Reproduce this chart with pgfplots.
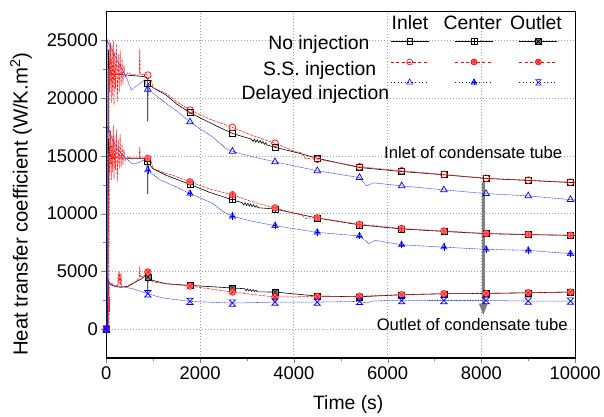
\documentclass[border=0pt]{standalone}
\usepackage{fontspec}
\setmainfont{Liberation Sans}
\usepackage{pgfplots}
\pgfplotsset{compat=1.18}
\usetikzlibrary{arrows.meta}

\pgfdeclareplotmark{boxplus}{%
 \pgfpathrectangle{\pgfqpoint{-\pgfplotmarksize}{-\pgfplotmarksize}}{\pgfqpoint{2\pgfplotmarksize}{2\pgfplotmarksize}}%
 \pgfusepathqfillstroke
 \pgfpathmoveto{\pgfqpoint{-\pgfplotmarksize}{0pt}}\pgfpathlineto{\pgfqpoint{\pgfplotmarksize}{0pt}}%
 \pgfpathmoveto{\pgfqpoint{0pt}{-\pgfplotmarksize}}\pgfpathlineto{\pgfqpoint{0pt}{\pgfplotmarksize}}%
 \pgfusepathqstroke}
\pgfdeclareplotmark{boxtimes}{%
 \pgfpathrectangle{\pgfqpoint{-\pgfplotmarksize}{-\pgfplotmarksize}}{\pgfqpoint{2\pgfplotmarksize}{2\pgfplotmarksize}}%
 \pgfusepathqfillstroke
 \pgfpathmoveto{\pgfqpoint{-\pgfplotmarksize}{-\pgfplotmarksize}}\pgfpathlineto{\pgfqpoint{\pgfplotmarksize}{\pgfplotmarksize}}%
 \pgfpathmoveto{\pgfqpoint{-\pgfplotmarksize}{\pgfplotmarksize}}\pgfpathlineto{\pgfqpoint{\pgfplotmarksize}{-\pgfplotmarksize}}%
 \pgfusepathqstroke}
\pgfdeclareplotmark{triangleplus}{%
 \pgfpathmoveto{\pgfqpoint{0pt}{\pgfplotmarksize}}%
 \pgfpathlineto{\pgfqpoint{-.866\pgfplotmarksize}{-.5\pgfplotmarksize}}%
 \pgfpathlineto{\pgfqpoint{.866\pgfplotmarksize}{-.5\pgfplotmarksize}}%
 \pgfpathclose\pgfusepathqfillstroke
 \pgfpathmoveto{\pgfqpoint{0pt}{-.9\pgfplotmarksize}}\pgfpathlineto{\pgfqpoint{0pt}{\pgfplotmarksize}}%
 \pgfpathmoveto{\pgfqpoint{-.6\pgfplotmarksize}{0pt}}\pgfpathlineto{\pgfqpoint{.6\pgfplotmarksize}{0pt}}%
 \pgfusepathqstroke}
\pgfdeclareplotmark{hourglass}{%
 \pgfpathmoveto{\pgfqpoint{-\pgfplotmarksize}{\pgfplotmarksize}}%
 \pgfpathlineto{\pgfqpoint{\pgfplotmarksize}{\pgfplotmarksize}}%
 \pgfpathlineto{\pgfqpoint{-\pgfplotmarksize}{-\pgfplotmarksize}}%
 \pgfpathlineto{\pgfqpoint{\pgfplotmarksize}{-\pgfplotmarksize}}%
 \pgfpathclose\pgfusepathqstroke}

\pgfplotsset{
 niL/.style={black, line width=0.6pt},
 ssL/.style={red!90, line width=0.55pt, dash pattern=on 3bp off 1bp},
 diL/.style={blue!80, line width=0.55pt, dash pattern=on 1bp off 0.6bp},
 niM/.style={only marks, black, mark options={solid, line width=0.7pt, fill=white}},
 ssM/.style={only marks, red, mark options={solid, line width=0.7pt, fill=white}},
 diM/.style={only marks, blue, mark options={solid, line width=0.7pt, fill=white}},
}

\begin{document}
\begin{tikzpicture}
\begin{axis}[
 scale only axis, width=470.6bp, height=347.6bp,
 xmin=0, xmax=10000, ymin=-2500, ymax=27500,
 xtick={0,2000,...,10000}, ytick={0,5000,...,25000},
 minor x tick num=1, minor y tick num=1,
 tick pos=left, tick align=outside,
 major tick length=5bp, minor tick length=3bp,
 axis line style={line width=1.1pt},
 xmajorgrids=true, ymajorgrids=true,
 major grid style={dash pattern=on 1bp off 2bp, gray!75, line width=0.8pt},
 scaled ticks=false,
 /pgf/number format/.cd, fixed, set thousands separator={}, assume math mode=true, /pgfplots/.cd,
 ticklabel style={font=\fontsize{18.5}{20}\selectfont},
 every axis x label/.style={at={(axis description cs:0.516,-0.134)}, anchor=center, font=\fontsize{19.5}{22}\selectfont},
 every axis y label/.style={at={(axis description cs:-0.182,0.444)}, rotate=90, anchor=center, font=\fontsize{20.5}{23}\selectfont},
 xlabel={Time (s)},
 ylabel={Heat transfer coefficient (W/K.m\textsuperscript{2})},
 legend columns=3,
 legend style={draw=none, fill=none, inner sep=0pt, outer sep=0pt,
   at={(0.606,0.9432)}, anchor=north west, column sep=12.5bp, row sep=0pt,
   nodes={inner sep=0pt, minimum height=20.5bp}},
 legend image code/.code={\draw[mark repeat=2,mark phase=2,#1] plot coordinates {(0bp,0bp) (19bp,0bp) (38bp,0bp)};},
]
% ---------- No injection (black) ----------
\addplot[niL, forget plot] coordinates {(0,0)(30,0)(45,24200)(60,22600)(100,22100)(300,22050)(600,21950)(850,21850)(880,21700)(885,18000)(890,21300)(1000,20900)(1275,20280)(1500,19500)(1785,18750)(2000,18300)(2400,17500)(2690,16950)(2850,16750)(3100,16450)(3130,16250)(3160,16450)(3190,16200)(3220,16400)(3250,16150)(3280,16350)(3310,16100)(3340,16250)(3370,16000)(3400,16150)(3430,15950)(3598,15750)(4100,15250)(4500,14800)(5400,14000)(6300,13650)(7200,13370)(8100,13050)(9000,12880)(9900,12700)(10000,12690)};
\addplot[niL, forget plot] coordinates {(0,0)(30,0)(45,16500)(70,15200)(120,14850)(500,14800)(850,14800)(880,14600)(885,11700)(890,14450)(990,13910)(1275,13330)(1785,12530)(2200,11850)(2690,11200)(2900,10950)(2930,10750)(2960,10950)(2990,10700)(3020,10900)(3050,10650)(3080,10850)(3110,10600)(3140,10780)(3170,10560)(3200,10700)(3230,10520)(3598,10400)(4500,9620)(5400,9030)(6300,8680)(7200,8460)(8100,8270)(9000,8185)(9900,8125)(10000,8110)};
\addplot[niL, forget plot] coordinates {(0,0)(30,0)(45,4200)(80,3900)(150,3750)(300,3620)(450,3700)(600,4050)(750,4350)(850,4700)(880,4550)(885,3060)(890,4500)(990,4220)(1275,3930)(1785,3785)(2690,3560)(2950,3500)(2980,3330)(3010,3480)(3040,3300)(3070,3450)(3100,3270)(3130,3420)(3160,3250)(3190,3380)(3220,3230)(3598,3210)(4500,2860)(5400,2800)(6300,2977)(7200,3064)(8100,3090)(9000,3150)(9900,3210)(10000,3220)};
\addplot[niM, mark=square, mark size=3bp, forget plot] coordinates {(0,0)(885,21300)(1785,18750)(2690,16950)(3598,15750)(4500,14800)(5400,14000)(6300,13650)(7200,13370)(8100,13050)(9000,12880)(9900,12700)};
\addplot[niM, mark=boxplus, mark size=3bp, forget plot] coordinates {(0,0)(885,14500)(1785,12530)(2690,11200)(3598,10400)(4500,9620)(5400,9030)(6300,8680)(7200,8460)(8100,8270)(9000,8185)(9900,8125)};
\addplot[niM, mark=boxtimes, mark size=3bp, mark options={fill=gray}, forget plot] coordinates {(0,0)(885,4510)(1785,3785)(2690,3560)(3598,3210)(4500,2860)(5400,2800)(6300,2977)(7200,3064)(8100,3090)(9000,3150)(9900,3210)};
% ---------- S.S. injection (red) ----------
\addplot[ssL, forget plot] coordinates {(0,0)(55,0)(60,25000)(75,20500)(90,24800)(105,19600)(120,24600)(135,20200)(150,25000)(165,19400)(180,24000)(195,20800)(215,24700)(235,19700)(255,23800)(275,20500)(295,24200)(315,21000)(335,23400)(355,21200)(375,22900)(400,21800)(450,22200)(550,22050)(700,22000)(715,24300)(725,22050)(850,22100)(885,22000)(920,21300)(960,21600)(1000,20900)(1275,20420)(1500,19700)(1785,18975)(2200,18200)(2690,17470)(3100,16800)(3598,16100)(4037,15360)(4150,15300)(4250,14780)(4500,14720)(5400,14060)(6300,13715)(7200,13390)(8100,13070)(9000,12900)(9900,12725)(10000,12700)};
\addplot[ssL, forget plot] coordinates {(0,0)(55,0)(60,17500)(75,13500)(90,17200)(105,12900)(120,16800)(135,13600)(150,17700)(165,13000)(180,16500)(195,13800)(215,17300)(235,12800)(255,16400)(275,13900)(295,16900)(315,14000)(335,16000)(355,14200)(375,15600)(400,14600)(450,14900)(550,14800)(700,14800)(715,15800)(725,14800)(850,14850)(885,14800)(920,14300)(960,14500)(1000,13900)(1275,13480)(1400,13350)(1785,12760)(2200,12150)(2690,11640)(3100,11050)(3598,10500)(4037,10000)(4150,9950)(4250,9600)(4500,9640)(5400,9080)(6300,8720)(7200,8500)(8100,8290)(9000,8200)(9900,8130)(10000,8120)};
\addplot[ssL, forget plot] coordinates {(0,0)(55,0)(60,2800)(70,1500)(80,4000)(110,3990)(180,3700)(240,3650)(255,4900)(270,3800)(285,5000)(300,3800)(315,4800)(330,3760)(350,3700)(450,3650)(600,4000)(700,4400)(715,5500)(725,4500)(850,4700)(885,4950)(920,4400)(990,4080)(1275,3930)(1785,3730)(2690,3210)(3598,2780)(4500,2820)(5400,2850)(6300,2977)(7200,3064)(8100,3090)(9000,3150)(9900,3210)(10000,3220)};
\addplot[ssM, mark=o, mark size=3.4bp, forget plot] coordinates {(0,0)(885,22000)(1785,18975)(2690,17470)(3598,16100)(4500,14720)(5400,14060)(6300,13715)(7200,13390)(8100,13070)(9000,12900)(9900,12725)};
\addplot[ssM, mark=oplus*, mark size=3.4bp, mark options={fill=red!55}, forget plot] coordinates {(0,0)(885,14800)(1785,12760)(2690,11640)(3598,10500)(4500,9640)(5400,9080)(6300,8720)(7200,8500)(8100,8290)(9000,8200)(9900,8130)};
\addplot[ssM, mark=otimes*, mark size=3.4bp, mark options={fill=red!55}, forget plot] coordinates {(0,0)(885,4950)(1785,3730)(2690,3210)(3598,2780)(4500,2820)(5400,2850)(6300,2977)(7200,3064)(8100,3090)(9000,3150)(9900,3210)};
% ---------- Delayed injection (blue) ----------
\addplot[diL, forget plot] coordinates {(0,0)(15,0)(25,25000)(60,24600)(140,24040)(283,22880)(425,21870)(531,20710)(673,21140)(814,21580)(885,20770)(1133,19990)(1500,18900)(1785,17950)(1983,17390)(2266,16660)(2550,15650)(2690,15400)(3100,14950)(3598,14490)(4500,13715)(5400,13130)(5550,12410)(5700,12670)(6300,12410)(7200,12060)(8100,11740)(9000,11540)(9900,11220)(10000,11180)};
\addplot[diL, forget plot] coordinates {(0,0)(15,0)(25,17500)(80,17000)(150,16200)(300,15300)(450,14700)(560,14300)(700,14450)(800,14650)(885,13770)(1133,12950)(1500,12300)(1785,11740)(2266,10900)(2500,10150)(2690,9780)(3100,9350)(3598,8960)(4500,8380)(5400,8070)(5600,7400)(5740,7690)(6300,7300)(7200,7100)(8100,6910)(9000,6820)(9900,6535)(10000,6500)};
\addplot[diL, forget plot] coordinates {(0,0)(15,0)(25,4400)(60,4000)(100,3850)(300,3700)(567,3500)(885,3064)(1200,2700)(1785,2400)(2690,2256)(3598,2340)(4500,2340)(5400,2400)(5550,2250)(5700,2450)(6300,2470)(7200,2480)(8100,2480)(9000,2430)(9900,2430)(10000,2430)};
\addplot[diM, mark=triangle, mark size=3.8bp, forget plot] coordinates {(0,0)(885,20770)(1785,17950)(2690,15400)(3598,14490)(4500,13715)(5400,13130)(6300,12410)(7200,12060)(8100,11740)(9000,11540)(9900,11220)};
\addplot[diM, mark=triangleplus, mark size=3.8bp, mark options={fill=blue!45}, forget plot] coordinates {(0,0)(885,13770)(1785,11740)(2690,9780)(3598,8960)(4500,8380)(5400,8070)(6300,7300)(7200,7100)(8100,6910)(9000,6820)(9900,6535)};
\addplot[diM, mark=hourglass, mark size=3.2bp, forget plot] coordinates {(0,0)(885,3064)(1785,2400)(2690,2256)(3598,2340)(4500,2340)(5400,2400)(6300,2470)(7200,2480)(8100,2480)(9000,2430)(9900,2430)};
% ---------- legend ----------
\addlegendimage{black, line width=0.6pt, mark=square, mark size=2.8bp, mark options={solid, fill=white}}
\addlegendentry{\mbox{}}
\addlegendimage{black, line width=0.6pt, mark=boxplus, mark size=2.8bp, mark options={solid, fill=white}}
\addlegendentry{\mbox{}}
\addlegendimage{black, line width=0.6pt, mark=boxtimes, mark size=2.8bp, mark options={solid, fill=gray}}
\addlegendentry{\mbox{}}
\addlegendimage{red, line width=0.6pt, dash pattern=on 3bp off 2.5bp, mark=o, mark size=3bp, mark options={solid, fill=white}}
\addlegendentry{\mbox{}}
\addlegendimage{red, line width=0.6pt, dash pattern=on 3bp off 2.5bp, mark=oplus*, mark size=3bp, mark options={solid, fill=red!55}}
\addlegendentry{\mbox{}}
\addlegendimage{red, line width=0.6pt, dash pattern=on 3bp off 2.5bp, mark=otimes*, mark size=3bp, mark options={solid, fill=red!55}}
\addlegendentry{\mbox{}}
\addlegendimage{blue, line width=0.6pt, dash pattern=on 1bp off 2.5bp, mark=triangle, mark size=3.4bp, mark options={solid, fill=white}}
\addlegendentry{\mbox{}}
\addlegendimage{blue, line width=0.6pt, dash pattern=on 1bp off 2.5bp, mark=triangleplus, mark size=3.4bp, mark options={solid, fill=blue!45}}
\addlegendentry{\mbox{}}
\addlegendimage{blue, line width=0.6pt, dash pattern=on 1bp off 2.5bp, mark=hourglass, mark size=2.8bp, mark options={solid}}
\addlegendentry{\mbox{}}
% ---------- annotations ----------
\draw[-{Triangle[length=12bp,width=8bp]}, line width=2.6bp, gray] (axis cs:8040,12760) -- (axis cs:8040,1180);
\node[anchor=base, font=\fontsize{16.8}{19}\selectfont] at (axis cs:7826,14782) {Inlet of condensate tube};
\node[anchor=base, font=\fontsize{16.8}{19}\selectfont] at (axis cs:7805,-121) {Outlet of condensate tube};
\node[anchor=base, font=\fontsize{19.5}{22}\selectfont] at (axis description cs:0.6477,0.9494) {Inlet};
\node[anchor=base, font=\fontsize{19.5}{22}\selectfont] at (axis description cs:0.7816,0.9494) {Center};
\node[anchor=base, font=\fontsize{19.5}{22}\selectfont] at (axis description cs:0.9165,0.9494) {Outlet};
\node[anchor=base, font=\fontsize{19.5}{22}\selectfont] at (axis description cs:0.4534,0.8918) {No injection};
\node[anchor=base, font=\fontsize{19.5}{22}\selectfont] at (axis description cs:0.455,0.815) {S.S. injection};
\node[anchor=base, font=\fontsize{19.5}{22}\selectfont] at (axis description cs:0.446,0.746) {Delayed injection};
\end{axis}
\path (current axis.south west) +(-106.7bp,-58.7bp) (current axis.north east) +(26.7bp,11.7bp);
\end{tikzpicture}
\end{document}
